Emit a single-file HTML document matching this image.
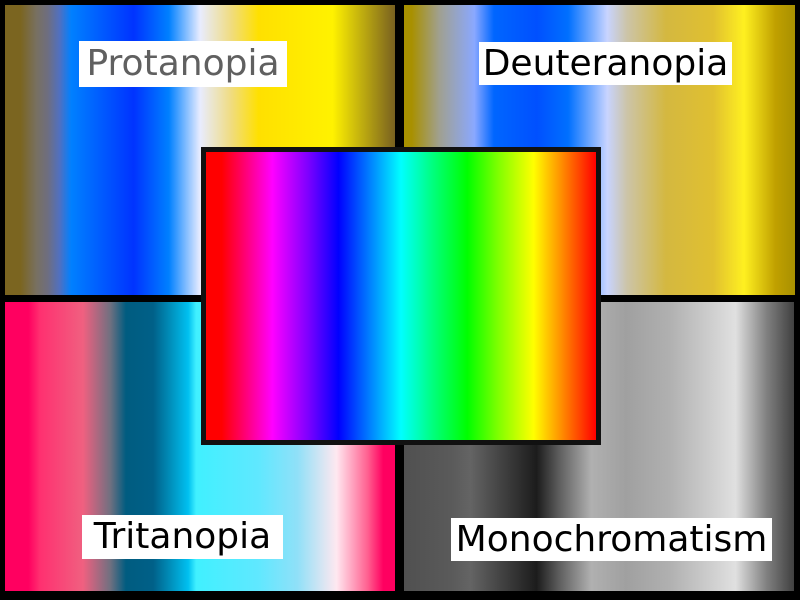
<!DOCTYPE html>
<html><head><meta charset="utf-8"><style>
body{margin:0;width:800px;height:600px;background:#000;position:relative;overflow:hidden;font-family:"DejaVu Sans","Liberation Sans",sans-serif}
.p{position:absolute}
.lab{position:absolute;background:#fff;color:#000;font-size:36px;display:flex;align-items:center;justify-content:center;line-height:1}
</style></head><body>
<div class="p" style="left:5px;top:5px;width:390px;height:290px;background:linear-gradient(90deg,#7b6520 0%,#7b6520 4%,#787060 8%,#6e6e80 11%,#5070c0 14%,#0080ff 17%,#0033ff 33%,#0080ff 42%,#e8ecff 50%,#f0dc80 58%,#ffe000 65%,#fff200 84%,#786020 100%)"></div>
<div class="p" style="left:404px;top:5px;width:391px;height:290px;background:linear-gradient(90deg,#a89000 0%,#a89000 2%,#a0a090 9%,#8aa8ff 18%,#0066ff 23%,#0050ff 34%,#0070ff 42%,#c8d4ff 52%,#ccc4a8 57%,#d4b840 67%,#e0c030 79%,#fff020 87%,#c0a000 95%,#a89000 100%)"></div>
<div class="p" style="left:5px;top:302px;width:390px;height:289px;background:linear-gradient(90deg,#ff0060 0%,#ff0060 6%,#ff3070 9%,#f06080 20%,#707080 27%,#005c80 31%,#006088 38%,#00c0f0 47%,#40f0ff 49%,#60e8ff 65%,#90e0f8 75%,#ffe8f0 85%,#ff6090 93%,#ff0060 97%,#ff0060 100%)"></div>
<div class="p" style="left:404px;top:302px;width:390px;height:289px;background:linear-gradient(90deg,#505050 0%,#5a5a5a 12%,#646464 17%,#1c1c1c 34%,#606060 40%,#b0b0b0 48%,#a0a0a0 57%,#b0b0b0 68%,#e0e0e0 85%,#808080 93%,#404040 100%)"></div>
<div class="p" style="left:201px;top:147px;width:390px;height:288px;border:5px solid #111;background:linear-gradient(90deg,#ff0000 0%,#ff0000 4%,#ff0060 9%,#ff00ff 17%,#8000ff 26%,#0000ff 34%,#0080ff 42%,#00ffff 50%,#00ff80 58%,#00ff00 67%,#80ff00 75%,#ffff00 84%,#ff8000 92%,#ff0000 100%)"></div>
<div class="lab" style="left:79px;top:41px;width:208px;height:46px;color:#606060">Protanopia</div>
<div class="lab" style="left:479px;top:42px;width:253px;height:43px">Deuteranopia</div>
<div class="lab" style="left:82px;top:515px;width:201px;height:44px">Tritanopia</div>
<div class="lab" style="left:451px;top:518px;width:321px;height:43px">Monochromatism</div>
</body></html>
